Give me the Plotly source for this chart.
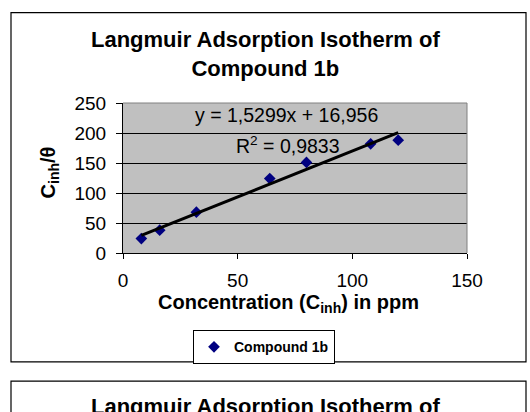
import plotly.graph_objects as go

# ---- data ----
conc_ppm = [8, 16, 32, 64, 80, 108, 120]
c_over_theta = [24, 38, 68, 124, 151, 182, 188]
series_name = "Compound 1b"
slope = 1.5299
intercept = 16.956
r_squared = 0.9833
x_ticks = [0, 50, 100, 150]
y_ticks = [0, 50, 100, 150, 200, 250]

W, H = 530, 412
# plot area in pixels
L, R, T, B = 123, 467, 102.5, 252.7
PW, PH = R - L, B - T


def px(x):
    return (x - L) / PW


def py(y):
    return (B - y) / PH


FONT = "Arial, Liberation Sans, sans-serif"

fig = go.Figure()

fig.add_trace(go.Scatter(
    x=conc_ppm, y=c_over_theta, mode="markers", name=series_name,
    marker=dict(symbol="diamond", size=9, color="#000080"),
))

xt = [min(conc_ppm), max(conc_ppm)]
fig.add_trace(go.Scatter(
    x=xt, y=[slope * v + intercept for v in xt], mode="lines",
    line=dict(color="black", width=3), showlegend=False, hoverinfo="skip",
))

shapes = [
    # outer chart frame
    dict(type="rect", xref="paper", yref="paper", x0=px(11), x1=px(526),
         y0=py(12), y1=py(361.7), line=dict(color="black", width=1.2), layer="below"),
    # second chart frame (cut off)
    dict(type="rect", xref="paper", yref="paper", x0=px(11), x1=px(526),
         y0=py(381), y1=py(440), line=dict(color="black", width=1.2), layer="below"),
    # gray top / right border of plot area
    dict(type="line", xref="paper", yref="paper", x0=0, x1=1, y0=1, y1=1,
         line=dict(color="#808080", width=1), layer="above"),
    dict(type="line", xref="paper", yref="paper", x0=1, x1=1, y0=0, y1=1,
         line=dict(color="#808080", width=1), layer="above"),
]

fmt = lambda v, d: f"{v:.{d}f}".replace(".", ",")
annotations = [
    dict(text="<b>Langmuir Adsorption Isotherm of<br>Compound 1b</b>", x=px(265), y=py(53.5),
         xref="paper", yref="paper", showarrow=False, xanchor="center", yanchor="middle",
         font=dict(family=FONT, size=22, color="black")),
    dict(text="<b>Langmuir Adsorption Isotherm of</b>", x=px(265), y=py(406),
         xref="paper", yref="paper", showarrow=False, xanchor="center", yanchor="middle",
         font=dict(family=FONT, size=22, color="black")),
    dict(text=f"y = {fmt(slope, 4)}x + {fmt(intercept, 3)}", x=px(286), y=py(115),
         xref="paper", yref="paper", showarrow=False, xanchor="center", yanchor="middle",
         font=dict(family=FONT, size=19.5, color="black")),
    dict(text=f"R<sup>2</sup> = {fmt(r_squared, 4)}", x=px(288), y=py(145),
         xref="paper", yref="paper", showarrow=False, xanchor="center", yanchor="middle",
         font=dict(family=FONT, size=19.5, color="black")),
    dict(text="<b>Concentration (C<sub>inh</sub>) in ppm</b>", x=px(288), y=py(303),
         xref="paper", yref="paper", showarrow=False, xanchor="center", yanchor="middle",
         font=dict(family=FONT, size=20, color="black")),
    dict(text="<b>C<sub>inh</sub>/θ</b>", x=px(49), y=py(172), textangle=-90,
         xref="paper", yref="paper", showarrow=False, xanchor="center", yanchor="middle",
         font=dict(family=FONT, size=20, color="black")),
]

fig.update_layout(
    width=W, height=H,
    margin=dict(l=L, r=W - R, t=T, b=H - B, pad=0),
    paper_bgcolor="white", plot_bgcolor="#c0c0c0",
    font=dict(family=FONT, color="black"),
    shapes=shapes, annotations=annotations,
    showlegend=True,
    legend=dict(
        orientation="h", x=px(264), y=py(330), xanchor="center", yanchor="top",
        bordercolor="black", borderwidth=1, bgcolor="white",
        font=dict(family=FONT, size=14, color="black", weight="bold"),
    ),
    xaxis=dict(
        range=[0, 150], tickvals=x_ticks, ticktext=[str(v) for v in x_ticks],
        showgrid=False, zeroline=False, showline=True, linecolor="black", linewidth=1,
        ticks="outside", ticklen=5, tickcolor="black", ticklabelstandoff=5,
        tickfont=dict(family=FONT, size=19, color="black"), fixedrange=True,
    ),
    yaxis=dict(
        range=[0, 250], tickvals=y_ticks, ticktext=[str(v) for v in y_ticks],
        showgrid=True, gridcolor="black", gridwidth=1, zeroline=False,
        showline=True, linecolor="black", linewidth=1,
        ticks="outside", ticklen=6, tickcolor="black", ticklabelstandoff=6,
        tickfont=dict(family=FONT, size=19, color="black"), fixedrange=True,
    ),
)

fig.write_html("out.html")
